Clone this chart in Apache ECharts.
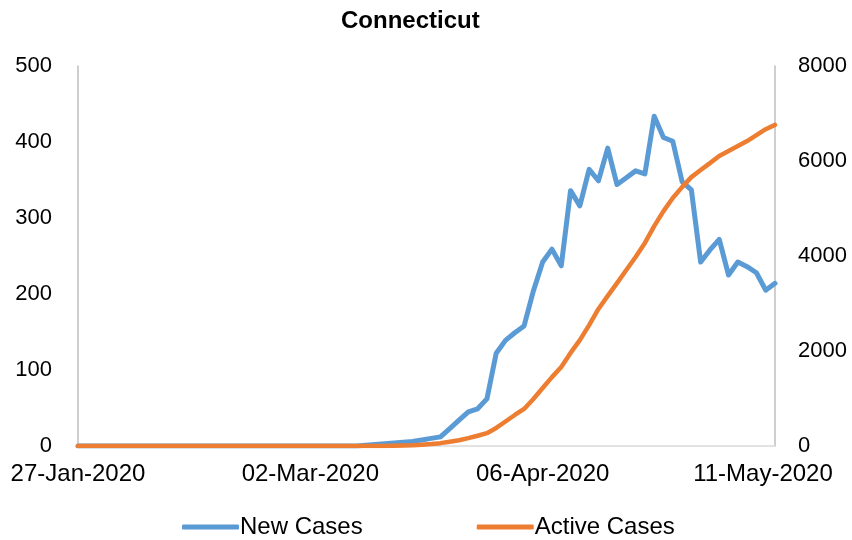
<!DOCTYPE html>
<html>
<head>
<meta charset="utf-8">
<script src="https://cdn.jsdelivr.net/npm/echarts@6/dist/echarts.min.js"></script>
<style>html,body{margin:0;padding:0;background:#fff}#c{width:852px;height:540px}</style>
</head>
<body>
<div id="c"></div>
<script>
const chartTitle = 'Connecticut';
const xTickLabels = ['27-Jan-2020', '02-Mar-2020', '06-Apr-2020', '11-May-2020'];
const leftTicks = [0, 100, 200, 300, 400, 500];
const rightTicks = [0, 2000, 4000, 6000, 8000];
const newCases = [
  0,0,0,0,0,0,0,0,0,0, 0,0,0,0,0,0,0,0,0,0, 0,0,0,0,0,0,0,0,0,0, 0,
  1,2,3,4,5,6,8,10,12,23,34,45,49,62,122,139,149,158,204,242,259,237,336,316,364,349,392,344,353,362,358,434,406,401,348,337,242,258,272,225,242,236,228,205,214
];
const activeCases = [
  0,0,0,0,0,0,0,0,0,0, 0,0,0,0,0,0,0,0,0,0, 0,0,0,0,0,0,0,0,0,0, 0,0,0,0,
  5,10,15,25,40,60,90,120,165,215,270,380,516,653,780,990,1220,1450,1665,1960,2230,2545,2885,3160,3430,3705,3980,4275,4630,4945,5220,5450,5660,5810,5955,6105,6210,6315,6420,6545,6670,6760
];
const categories = newCases.map((_, i) => i);
const labelStep = (categories.length - 1) / (xTickLabels.length - 1);

const FONT = 'Liberation Sans, Arial, sans-serif';
const chart = echarts.init(document.getElementById('c'), null, {renderer: 'canvas'});
chart.setOption({
  animation: false,
  backgroundColor: '#ffffff',
  title: {
    text: chartTitle, left: 336, top: 4,
    textStyle: {fontFamily: FONT, fontSize: 24, fontWeight: 'bold', color: '#000'}
  },
  legend: {
    top: 510, left: 177,
    itemWidth: 57, itemHeight: 5, itemGap: 114,
    icon: 'roundRect',
    textStyle: {fontFamily: FONT, fontSize: 24, color: '#000', padding: [0, 0, 0, -4]},
    data: ['New Cases', 'Active Cases']
  },
  grid: {left: 78, right: 77, top: 66, bottom: 94, containLabel: false},
  xAxis: {
    type: 'category', data: categories, boundaryGap: false,
    axisLine: {lineStyle: {color: '#d9d9d9', width: 1.5}},
    axisTick: {show: false},
    axisLabel: {
      interval: labelStep - 1, margin: 16, color: '#000', fontFamily: FONT, fontSize: 24,
      formatter: (v) => {
        const k = Math.round(Number(v) / labelStep);
        return k === xTickLabels.length - 1 ? '{last|' + xTickLabels[k] + '}' : xTickLabels[k];
      },
      rich: {last: {fontFamily: FONT, fontSize: 24, color: '#000', padding: [0, 24, 0, 0]}}
    },
    splitLine: {show: false}
  },
  yAxis: [
    {
      type: 'value', min: leftTicks[0], max: leftTicks[leftTicks.length - 1], interval: 100,
      axisLine: {show: true, lineStyle: {color: '#bfbfbf', width: 1.5}},
      axisTick: {show: false}, splitLine: {show: false},
      axisLabel: {margin: 26, color: '#000', fontFamily: FONT, fontSize: 22, formatter: (v) => String(v)}
    },
    {
      type: 'value', min: rightTicks[0], max: rightTicks[rightTicks.length - 1], interval: 2000,
      axisLine: {show: true, lineStyle: {color: '#bfbfbf', width: 1.5}},
      axisTick: {show: false}, splitLine: {show: false},
      axisLabel: {margin: 23, color: '#000', fontFamily: FONT, fontSize: 22, formatter: (v) => String(v)}
    }
  ],
  series: [
    {
      name: 'New Cases', type: 'line', data: newCases, yAxisIndex: 0,
      showSymbol: false, symbol: 'none', z: 2,
      lineStyle: {color: '#5b9bd5', width: 5, cap: 'round', join: 'round'},
      itemStyle: {color: '#5b9bd5'}
    },
    {
      name: 'Active Cases', type: 'line', data: activeCases, yAxisIndex: 1,
      showSymbol: false, symbol: 'none', z: 3,
      lineStyle: {color: '#ed7d31', width: 4.5, cap: 'round', join: 'round'},
      itemStyle: {color: '#ed7d31'}
    }
  ]
});
</script>
</body>
</html>
